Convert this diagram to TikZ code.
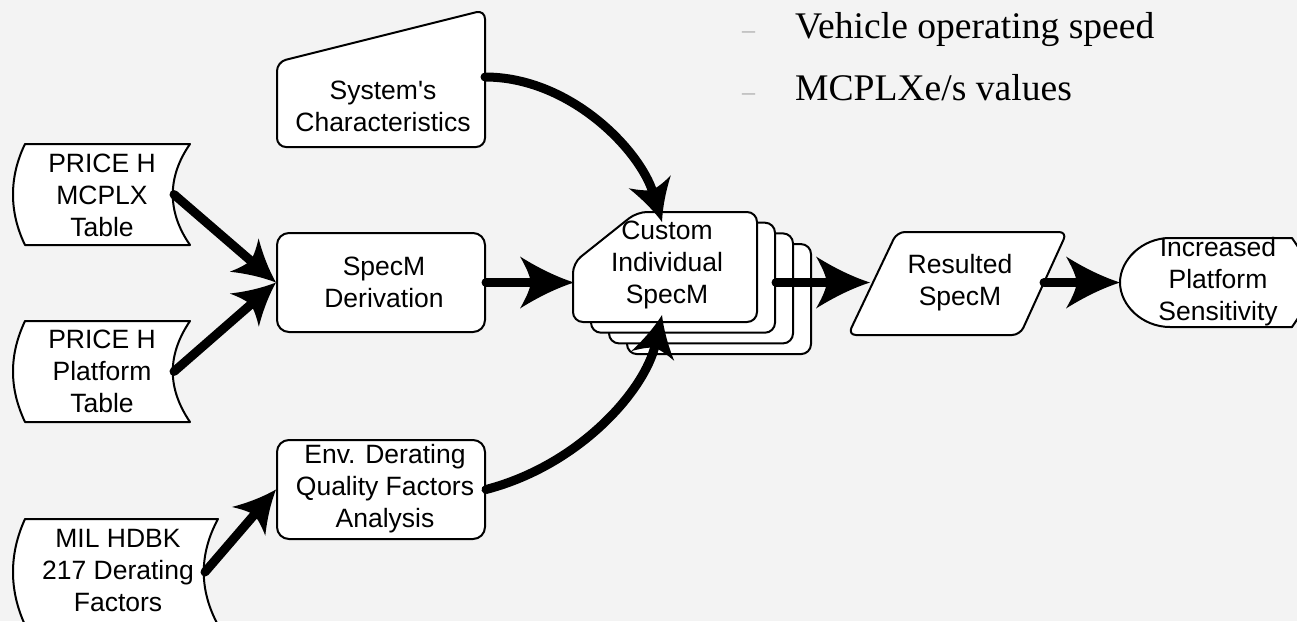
\documentclass[tikz,border=0pt]{standalone}
\usepackage{fontspec}
\setmainfont{Liberation Serif}
\setsansfont{Liberation Sans}
\newfontfamily\sansnq{Liberation Sans}[Ligatures=TeXOff]
\usetikzlibrary{arrows.meta}

\pgfdeclarearrow{
  name = PPT,
  parameters = {\the\pgfarrowlength,\the\pgfarrowwidth},
  setup code = {
    \pgfarrowssettipend{0pt}
    \pgfarrowssetbackend{-\pgfarrowlength}
    \pgfarrowssetlineend{-0.72\pgfarrowlength}
    \pgfarrowssavethe\pgfarrowlength
    \pgfarrowssavethe\pgfarrowwidth
  },
  drawing code = {
    \pgfpathmoveto{\pgfpointorigin}
    \pgfpathcurveto{\pgfpoint{-0.3\pgfarrowlength}{0.1\pgfarrowwidth}}{\pgfpoint{-0.65\pgfarrowlength}{0.27\pgfarrowwidth}}{\pgfpoint{-\pgfarrowlength}{0.5\pgfarrowwidth}}
    \pgfpathcurveto{\pgfpoint{-0.9\pgfarrowlength}{0.32\pgfarrowwidth}}{\pgfpoint{-0.82\pgfarrowlength}{0.15\pgfarrowwidth}}{\pgfpoint{-0.8\pgfarrowlength}{0pt}}
    \pgfpathcurveto{\pgfpoint{-0.82\pgfarrowlength}{-0.15\pgfarrowwidth}}{\pgfpoint{-0.9\pgfarrowlength}{-0.32\pgfarrowwidth}}{\pgfpoint{-\pgfarrowlength}{-0.5\pgfarrowwidth}}
    \pgfpathcurveto{\pgfpoint{-0.65\pgfarrowlength}{-0.27\pgfarrowwidth}}{\pgfpoint{-0.3\pgfarrowlength}{-0.1\pgfarrowwidth}}{\pgfpointorigin}
    \pgfpathclose
    \pgfusepathqfill
  },
  defaults = {length = 40pt, width = 44pt}
}

\definecolor{bgc}{RGB}{243,243,243}
\definecolor{dashc}{RGB}{175,175,175}

\tikzset{
  shp/.style={draw=black, line width=2pt, fill=white, line join=round},
  lbl/.style={font=\sffamily\fontsize{26.5}{32}\selectfont, align=center, inner sep=0pt},
  conn/.style={line width=9pt, line cap=round, -{PPT[length=42pt,width=44pt]}},
  bigconn/.style={line width=9pt, line cap=round, -{PPT[length=54pt,width=52pt]}},
  bullettxt/.style={anchor=base west, inner sep=0pt, font=\rmfamily\fontsize{37.6}{44}\selectfont},
  dashtxt/.style={anchor=base west, inner sep=0pt, text=dashc, font=\rmfamily\fontsize{26}{30}\selectfont},
  card/.style={shp, rounded corners=10pt}
}

\begin{document}
\begin{tikzpicture}[x=1pt,y=-1pt]
\useasboundingbox (0,0) rectangle (1297,621);
\clip (0,0) rectangle (1297,621);
\fill[bgc] (0,0) rectangle (1297,621);

% top right text
\node[dashtxt] (d1) at (742,38) {–};
\node[dashtxt] (d2) at (742,100) {–};
\node[bullettxt] (t1) at (795,38) {Vehicle operating speed};
\node[bullettxt] (t2) at (795,100) {MCPLXe/s values};

% stored data shapes
\draw[shp] (25,144) -- (190,144) .. controls (167,177) and (167,212) .. (190,245) -- (25,245) .. controls (9,212) and (9,177) .. cycle;
\node[lbl] (mcplx) at (102,195) {PRICE H\\MCPLX\\Table};
\coordinate (mcplxR) at (174,194.5);

\draw[shp] (25,321) -- (190,321) .. controls (167,355) and (167,388) .. (190,422) -- (25,422) .. controls (9,388) and (9,355) .. cycle;
\node[lbl] (plat) at (102,371) {PRICE H\\Platform\\Table};
\coordinate (platR) at (174,371.5);

\draw[shp] (25,519) -- (218,519) .. controls (199,554) and (199,590) .. (218,625) -- (25,625) .. controls (9,590) and (9,554) .. cycle;
\node[lbl] (mil) at (118,571) {MIL HDBK\\217 Derating\\Factors};
\coordinate (milR) at (205,572);

% manual input
\draw[shp, rounded corners=9pt] (277,147) -- (277,62) -- (485,10) -- (485,147) -- cycle;
\node[lbl, font=\sansnq\fontsize{26.5}{32}\selectfont] (sys) at (383,106) {System's\\Characteristics};
\coordinate (sysR) at (485,77);

% process boxes
\node[shp, rounded corners=12pt, minimum width=208pt, minimum height=99pt, inner sep=0pt] (deriv) at (381,282.5) {};
\node[lbl] (derivtxt) at (384,282.5) {SpecM\\Derivation};
\node[shp, rounded corners=12pt, minimum width=208pt, minimum height=99pt, inner sep=0pt] (env) at (381,489.5) {};
\node[lbl] (envtxt) at (385,489) {Env. Derating\\Quality Factors\\Analysis};

% stacked cards
\foreach \s in {3,2,1}{
  \draw[card, shift={(18*\s,10.7*\s)}] (573,322) -- (573,263) -- (637,212) -- (757,212) -- (757,322) -- cycle;
}
\draw[card] (573,322) -- (573,263) -- (637,212) -- (757,212) -- (757,322) -- cycle;
\node[lbl] (custom) at (667,265) {Custom\\Individual\\SpecM};
\coordinate (customW) at (574,282.5);
\coordinate (customE) at (776,282.5);
\coordinate (customN) at (662,222);
\coordinate (customS) at (662,315);

% parallelogram
\draw[shp, rounded corners=8pt] (897,232) -- (1067,232) -- (1020,335) -- (848,335) -- cycle;
\node[lbl] (res) at (960,282.5) {Resulted\\SpecM};
\coordinate (resW) at (870,282.5);
\coordinate (resE) at (1044,282.5);

% display shape
\draw[shp] (1170,238) -- (1292,238) -- (1322,282.5) -- (1292,327) -- (1170,327) .. controls (1142,327) and (1120,305) .. (1120,282.5) .. controls (1120,260) and (1142,238) .. cycle;
\node[lbl] (inc) at (1218,282) {Increased\\Platform\\Sensitivity};
\coordinate (incW) at (1120,282.5);

% connectors
\draw[conn] (mcplxR) -- (deriv.west);
\draw[conn] (platR) -- (deriv.west);
\draw[conn] (milR) -- (env.west);
\draw[bigconn] (deriv.east) -- (customW);
\draw[conn] (sysR) .. controls (570,77) and (640,150) .. (customN);
\draw[conn] (env.east) .. controls (580,465) and (645,390) .. (customS);
\draw[bigconn] (customE) -- (resW);
\draw[bigconn] (resE) -- (incW);
\end{tikzpicture}
\end{document}
